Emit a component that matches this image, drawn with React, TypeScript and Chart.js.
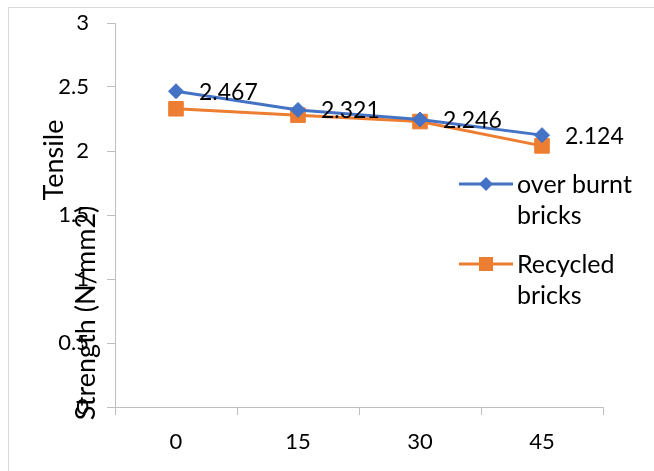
import React, { useEffect, useRef } from 'react';
import { Chart, registerables } from 'chart.js';

Chart.register(...registerables);

const categories = ['0', '15', '30', '45'];
const overBurnt = [2.467, 2.321, 2.246, 2.124];
const recycled = [2.33, 2.28, 2.23, 2.04];
const yTicks = [0, 0.5, 1, 1.5, 2, 2.5, 3];
const seriesNames = ['over burnt bricks', 'Recycled bricks'];
const legendLines = [['over burnt', 'bricks'], ['Recycled', 'bricks']];
const yTitleLines = ['Tensile', 'Strength (N/mm2)'];

const BLUE = '#4472C4';
const ORANGE = '#ED7D31';
const AXIS = '#bfbfbf';
const FONT = 'Lato';

const framePlugin = {
  id: 'frame',
  beforeDraw(chart: any) {
    const ctx = chart.ctx;
    ctx.save();
    ctx.fillStyle = '#ffffff';
    ctx.fillRect(0, 0, chart.width, chart.height);
    ctx.strokeStyle = '#d9d9d9';
    ctx.lineWidth = 1;
    ctx.strokeRect(8.5, 7.5, chart.width + 20, chart.height + 20);
    ctx.restore();
  },
};

const yTitlePlugin = {
  id: 'yTitle',
  afterDraw(chart: any) {
    const ctx = chart.ctx;
    const spots = [
      { x: 63, y: 160 },
      { x: 95, y: 313 },
    ];
    ctx.save();
    ctx.fillStyle = '#000';
    ctx.font = `27px ${FONT}`;
    ctx.textAlign = 'center';
    ctx.textBaseline = 'alphabetic';
    yTitleLines.forEach((t, i) => {
      ctx.save();
      ctx.translate(spots[i].x, spots[i].y);
      ctx.rotate(-Math.PI / 2);
      ctx.fillText(t, 0, 0);
      ctx.restore();
    });
    ctx.restore();
  },
};

const dataLabelPlugin = {
  id: 'dataLabels',
  afterDatasetsDraw(chart: any) {
    const ctx = chart.ctx;
    const meta = chart.getDatasetMeta(0);
    ctx.save();
    ctx.fillStyle = '#000';
    ctx.font = `23px ${FONT}`;
    ctx.textAlign = 'left';
    ctx.textBaseline = 'middle';
    meta.data.forEach((pt: any, i: number) => {
      ctx.fillText(String(overBurnt[i]), pt.x + 23, pt.y + 1);
    });
    ctx.restore();
  },
};

const legendPlugin = {
  id: 'customLegend',
  afterDraw(chart: any) {
    const ctx = chart.ctx;
    const rows = [184, 264];
    ctx.save();
    chart.data.datasets.forEach((ds: any, i: number) => {
      const y = rows[i];
      ctx.strokeStyle = ds.borderColor;
      ctx.lineWidth = 3;
      ctx.beginPath();
      ctx.moveTo(459, y);
      ctx.lineTo(513, y);
      ctx.stroke();
      ctx.fillStyle = ds.borderColor;
      if (i === 0) {
        const r = 7;
        ctx.beginPath();
        ctx.moveTo(486, y - r);
        ctx.lineTo(486 + r, y);
        ctx.lineTo(486, y + r);
        ctx.lineTo(486 - r, y);
        ctx.closePath();
        ctx.fill();
      } else {
        ctx.fillRect(486 - 7, y - 7, 14, 14);
      }
      ctx.fillStyle = '#000';
      ctx.font = `25px ${FONT}`;
      ctx.textAlign = 'left';
      ctx.textBaseline = 'middle';
      legendLines[i].forEach((t, j) => {
        ctx.fillText(t, 517, y + j * 31 + 1);
      });
    });
    ctx.restore();
  },
};

export default function App() {
  const ref = useRef<HTMLCanvasElement | null>(null);

  useEffect(() => {
    if (!ref.current) return;
    const chart = new Chart(ref.current, {
      type: 'line',
      data: {
        labels: categories,
        datasets: [
          {
            label: seriesNames[0],
            data: overBurnt,
            borderColor: BLUE,
            backgroundColor: BLUE,
            pointBackgroundColor: BLUE,
            pointBorderColor: BLUE,
            borderWidth: 3,
            pointStyle: 'rectRot',
            pointRadius: 7.5,
            pointBorderWidth: 1,
            tension: 0,
          },
          {
            label: seriesNames[1],
            data: recycled,
            borderColor: ORANGE,
            backgroundColor: ORANGE,
            pointBackgroundColor: ORANGE,
            pointBorderColor: ORANGE,
            borderWidth: 3,
            pointStyle: 'rect',
            pointRadius: 10.3,
            pointBorderWidth: 1,
            tension: 0,
          },
        ],
      },
      options: {
        responsive: false,
        animation: false,
        layout: { padding: { left: 0, top: 23, right: 51, bottom: 0 } },
        plugins: {
          legend: { display: false },
          tooltip: { enabled: false },
          title: { display: false },
        },
        scales: {
          x: {
            type: 'category',
            offset: true,
            grid: {
              offset: true,
              drawOnChartArea: false,
              drawTicks: true,
              tickLength: 8,
              color: AXIS,
            },
            border: { display: true, color: AXIS, width: 1 },
            ticks: {
              color: '#000',
              font: { family: FONT, size: 22 },
              padding: 14,
              maxRotation: 0,
            },
            afterFit: (axis: any) => {
              axis.height = 64;
              axis.paddingLeft = 0;
              axis.paddingRight = 0;
            },
          },
          y: {
            min: 0,
            max: 3,
            grid: {
              drawOnChartArea: false,
              drawTicks: true,
              tickLength: 8,
              color: AXIS,
            },
            border: { display: true, color: AXIS, width: 1 },
            afterBuildTicks: (axis: any) => {
              axis.ticks = yTicks.map((v) => ({ value: v }));
            },
            ticks: {
              color: '#000',
              font: { family: FONT, size: 22 },
              padding: 18,
              callback: (v: any) => String(v),
            },
            afterFit: (axis: any) => {
              axis.width = 115;
              axis.paddingTop = 0;
              axis.paddingBottom = 0;
            },
          },
        },
      },
      plugins: [framePlugin, dataLabelPlugin, legendPlugin, yTitlePlugin],
    });
    return () => chart.destroy();
  }, []);

  return (
    <div style={{ position: 'fixed', left: 0, top: 0, width: 654, height: 471 }}>
      <canvas ref={ref} width={654} height={471} style={{ display: 'block' }} />
    </div>
  );
}
